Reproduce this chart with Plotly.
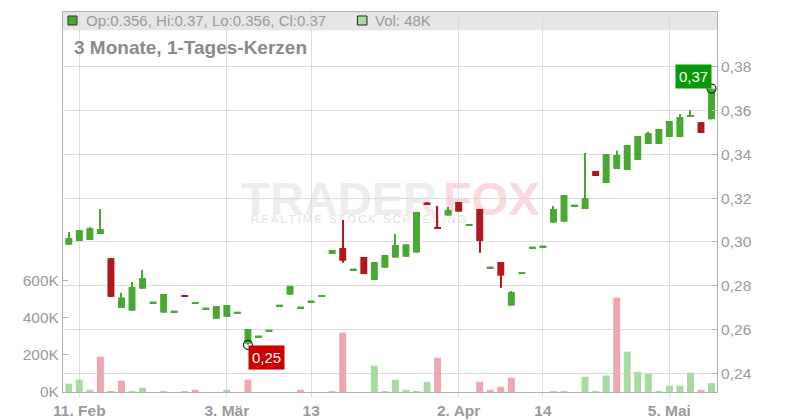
import plotly.graph_objects as go

# ---------------- data ----------------
dates = [
    "2025-02-10", "2025-02-11", "2025-02-12", "2025-02-13", "2025-02-14",
    "2025-02-17", "2025-02-18", "2025-02-19", "2025-02-20", "2025-02-21",
    "2025-02-24", "2025-02-25", "2025-02-26", "2025-02-27", "2025-02-28",
    "2025-03-03", "2025-03-04", "2025-03-05", "2025-03-06", "2025-03-07",
    "2025-03-10", "2025-03-11", "2025-03-12", "2025-03-13", "2025-03-14",
    "2025-03-17", "2025-03-18", "2025-03-19", "2025-03-20", "2025-03-21",
    "2025-03-24", "2025-03-25", "2025-03-26", "2025-03-27", "2025-03-28",
    "2025-03-31", "2025-04-01", "2025-04-02", "2025-04-03", "2025-04-04",
    "2025-04-07", "2025-04-08", "2025-04-09", "2025-04-10", "2025-04-11",
    "2025-04-14", "2025-04-15", "2025-04-16", "2025-04-17", "2025-04-22",
    "2025-04-23", "2025-04-24", "2025-04-25", "2025-04-28", "2025-04-29",
    "2025-04-30", "2025-05-02", "2025-05-05", "2025-05-06", "2025-05-07",
    "2025-05-08", "2025-05-09",
]

opens = [
    0.2987, 0.3004, 0.3009, 0.3036, 0.2926, 0.2698, 0.2686, 0.2786, 0.2724, 0.2677,
    0.2683, 0.2755, 0.2718, 0.2697, 0.2649, 0.2658, 0.2678, 0.2535, 0.2569, 0.2596,
    0.2710, 0.2759, 0.2701, 0.2729, 0.2753, 0.2945, 0.2972, 0.2875, 0.2931, 0.2826,
    0.2882, 0.2928, 0.2932, 0.2951, 0.3178, 0.3068, 0.3120, 0.3182, 0.3077, 0.3150,
    0.2884, 0.2908, 0.2709, 0.2857, 0.2975, 0.2980, 0.3088, 0.3092, 0.3167, 0.3150,
    0.3324, 0.3269, 0.3333, 0.3328, 0.3374, 0.3447, 0.3447, 0.3479, 0.3479, 0.3574,
    0.3547, 0.356,
]
highs = [
    0.3045, 0.3054, 0.3068, 0.3150, 0.2926, 0.2768, 0.2817, 0.2872, 0.2724, 0.2762,
    0.2683, 0.2755, 0.2726, 0.2697, 0.2707, 0.2712, 0.2678, 0.2602, 0.2569, 0.2596,
    0.2710, 0.2799, 0.2701, 0.2729, 0.2753, 0.2963, 0.3100, 0.2875, 0.2931, 0.2908,
    0.2940, 0.3036, 0.2989, 0.3137, 0.3178, 0.3164, 0.3159, 0.3182, 0.3077, 0.3150,
    0.2884, 0.2908, 0.2776, 0.2857, 0.2975, 0.2980, 0.3164, 0.3214, 0.3167, 0.3406,
    0.3324, 0.3401, 0.3416, 0.3442, 0.3484, 0.3503, 0.3516, 0.3552, 0.3584, 0.3602,
    0.3547, 0.370,
]
lows = [
    0.2987, 0.3004, 0.3009, 0.3036, 0.2749, 0.2698, 0.2686, 0.2786, 0.2724, 0.2677,
    0.2683, 0.2752, 0.2718, 0.2697, 0.2649, 0.2658, 0.2678, 0.2530, 0.2569, 0.2596,
    0.2710, 0.2759, 0.2701, 0.2729, 0.2753, 0.2945, 0.2905, 0.2875, 0.2853, 0.2826,
    0.2882, 0.2928, 0.2932, 0.2951, 0.3175, 0.3060, 0.3120, 0.3138, 0.3077, 0.2951,
    0.2884, 0.2791, 0.2709, 0.2857, 0.2975, 0.2980, 0.3088, 0.3092, 0.3167, 0.3150,
    0.3301, 0.3269, 0.3333, 0.3328, 0.3374, 0.3447, 0.3447, 0.3479, 0.3479, 0.3574,
    0.3497, 0.356,
]
closes = [
    0.3018, 0.3054, 0.3063, 0.3059, 0.2749, 0.2746, 0.2794, 0.2835, 0.2724, 0.2762,
    0.2683, 0.2752, 0.2726, 0.2697, 0.2707, 0.2712, 0.2678, 0.2602, 0.2569, 0.2596,
    0.2710, 0.2799, 0.2701, 0.2729, 0.2753, 0.2963, 0.2914, 0.2875, 0.2853, 0.2908,
    0.2940, 0.2986, 0.2989, 0.3137, 0.3175, 0.3060, 0.3146, 0.3138, 0.3077, 0.3004,
    0.2884, 0.2846, 0.2771, 0.2857, 0.2975, 0.2980, 0.3150, 0.3214, 0.3167, 0.3200,
    0.3301, 0.3401, 0.3397, 0.3442, 0.3484, 0.3497, 0.3516, 0.3552, 0.3570, 0.3576,
    0.3497, 0.370,
]
volumes = [
    45000, 66000, 12000, 190000, 5000, 61000, 5000, 23000, 0, 5000,
    0, 5000, 12000, 0, 0, 12000, 0, 66000, 0, 0,
    0, 0, 12000, 0, 0, 5000, 319000, 0, 0, 141000,
    5000, 66000, 12000, 5000, 55000, 184000, 0, 0, 0, 55000,
    12000, 28000, 77000, 0, 0, 0, 5000, 5000, 0, 82000,
    5000, 88000, 507000, 217000, 109000, 98000, 5000, 34000, 34000, 104000,
    12000, 48000,
]

tick_dates = ["2025-02-11", "2025-03-03", "2025-03-13", "2025-04-02", "2025-04-14", "2025-05-05"]
tick_labels = ["11. Feb", "3. Mär", "13", "2. Apr", "14", "5. Mai"]
price_ticks = [0.24, 0.26, 0.28, 0.30, 0.32, 0.34, 0.36, 0.38]
volume_ticks = [0, 200000, 400000, 600000]
volume_tick_labels = ["0K", "200K", "400K", "600K"]
title_text = "3 Monate, 1-Tages-Kerzen"

# ---------------- styles ----------------
GREEN = "#47a932"
RED = "#b3171b"
VOL_GREEN = "#a8dba1"
VOL_RED = "#eea6b0"
GRID = "#dcdcdc"
AXIS = "#b0b0b0"
TEXT = "#9a9a9a"
FONT = "Liberation Sans"

n = len(dates)
candle_colors = [GREEN if c >= o else RED for o, c in zip(opens, closes)]
vol_colors = [VOL_GREEN if (i == 0 or closes[i] >= closes[i - 1]) else VOL_RED for i in range(n)]

MIN_BODY = 0.0007
body_base, body_h = [], []
for o, c in zip(opens, closes):
    lo, hi = min(o, c), max(o, c)
    if hi - lo < MIN_BODY:
        mid = (lo + hi) / 2
        lo, hi = mid - MIN_BODY / 2, mid + MIN_BODY / 2
    body_base.append(lo)
    body_h.append(hi - lo)

fig = go.Figure()

# wicks
fig.add_trace(go.Bar(
    x=dates, y=[h - l for h, l in zip(highs, lows)], base=lows, width=0.11,
    marker=dict(color=candle_colors, line=dict(width=0)), yaxis="y",
    hoverinfo="skip", showlegend=False,
))
# bodies
fig.add_trace(go.Bar(
    x=dates, y=body_h, base=body_base, width=0.66,
    marker=dict(color=candle_colors, line=dict(width=0)), yaxis="y",
    showlegend=False,
))
# volume
fig.add_trace(go.Bar(
    x=dates, y=volumes, width=0.66,
    marker=dict(color=vol_colors, line=dict(width=0)), yaxis="y2",
    showlegend=False,
))

i_lo = min(range(n), key=lambda i: lows[i])
i_hi = max(range(n), key=lambda i: highs[i])
fig.add_trace(go.Scatter(
    x=[dates[i_lo], dates[i_hi]], y=[lows[i_lo], highs[i_hi]], mode="markers",
    marker=dict(symbol="circle-open", size=9, color="#222222", line=dict(width=1.2)),
    yaxis="y", showlegend=False, hoverinfo="skip",
))


def fmt2(v):
    return f"{v:.2f}".replace(".", ",")


annotations = [
    dict(x=dates[i_lo], y=lows[i_lo], xref="x", yref="y", text=fmt2(lows[i_lo]),
         showarrow=False, xanchor="left", yanchor="top", bgcolor="#cc0000",
         borderpad=3, font=dict(family=FONT, size=15, color="white")),
    dict(x=dates[i_hi], y=highs[i_hi], xref="x", yref="y", text=fmt2(highs[i_hi]),
         showarrow=False, xanchor="right", yanchor="bottom", bgcolor="#0a990a",
         borderpad=3, font=dict(family=FONT, size=15, color="white")),
    dict(x=0.0142, y=0.9066, xref="paper", yref="paper", text=title_text,
         showarrow=False, xanchor="left", yanchor="middle",
         font=dict(family=FONT, size=19, color="#8a8a8a", weight="bold")),
    dict(x=0.0321, y=0.9776, xref="paper", yref="paper",
         text=f"Op:{opens[-1]:g}, Hi:{highs[-1]:g}, Lo:{lows[-1]:g}, Cl:{closes[-1]:g}",
         showarrow=False, xanchor="left", yanchor="middle",
         font=dict(family=FONT, size=15, color=TEXT)),
    dict(x=0.4740, y=0.9776, xref="paper", yref="paper",
         text=f"Vol: {volumes[-1] / 1000:.0f}K",
         showarrow=False, xanchor="left", yanchor="middle",
         font=dict(family=FONT, size=15, color=TEXT)),
]

wm_small = "\u2009 \u2009".join("\u2009".join(w) for w in ["REALTIME", "STOCK", "SCREENING"])
shapes = [
    # header band
    dict(type="rect", xref="paper", yref="paper", x0=0, x1=1, y0=0.952, y1=1,
         fillcolor="#e6e6e6", line=dict(width=0), layer="below"),
    # legend squares
    dict(type="rect", xref="paper", yref="paper", x0=0.0076, x1=0.0214, y0=0.9658, y1=0.9895,
         fillcolor=GREEN, line=dict(width=1, color="#333333"), layer="above"),
    dict(type="rect", xref="paper", yref="paper", x0=0.4502, x1=0.4648, y0=0.9658, y1=0.9895,
         fillcolor=VOL_GREEN, line=dict(width=1, color="#222222"), layer="above"),
    # watermark
    dict(type="rect", xref="paper", yref="paper", x0=0.1, x1=0.5765, y0=0.45, y1=0.59,
         fillcolor="rgba(0,0,0,0)", line=dict(width=0), layer="below",
         label=dict(text="TRADER", textposition="middle right", padding=0,
                    font=dict(family=FONT, size=47, color="#ededed", weight="bold"))),
    dict(type="rect", xref="paper", yref="paper", x0=0.5765, x1=0.95, y0=0.45, y1=0.59,
         fillcolor="rgba(0,0,0,0)", line=dict(width=0), layer="below",
         label=dict(text="FOX", textposition="middle left", padding=0,
                    font=dict(family=FONT, size=47, color="#fbdadd", weight="bold"))),
    dict(type="rect", xref="paper", yref="paper", x0=0.283, x1=0.95, y0=0.43, y1=0.486,
         fillcolor="rgba(0,0,0,0)", line=dict(width=0), layer="below",
         label=dict(text=wm_small, textposition="middle left", padding=0,
                    font=dict(family=FONT, size=11, color="#e2e2e2"))),
]

# the page places the figure 8px from the top-left corner
fig.update_layout(
    width=792, height=412,
    margin=dict(l=55, r=83, t=4, b=28, autoexpand=False),
    paper_bgcolor="white", plot_bgcolor="white",
    barmode="overlay", separators=",.", showlegend=False,
    font=dict(family=FONT, color=TEXT),
    xaxis=dict(
        type="category", range=[-0.55, 61.52], tickvals=tick_dates, ticktext=tick_labels,
        showgrid=True, gridcolor=GRID, gridwidth=1, showline=True, linecolor=AXIS,
        linewidth=1, mirror=True, ticks="outside", ticklen=4, tickcolor=GRID,
        tickfont=dict(family=FONT, size=15.5, color=TEXT, weight="bold"),
        automargin=False, fixedrange=True,
    ),
    yaxis=dict(
        side="right", range=[0.23146, 0.40498], tickvals=price_ticks, tickformat=".2f",
        showgrid=True, gridcolor=GRID, gridwidth=1, showline=True, linecolor=AXIS,
        linewidth=1, ticks="inside", ticklen=5, tickcolor=AXIS, zeroline=False,
        tickfont=dict(family=FONT, size=15.5, color=TEXT), automargin=False,
    ),
    yaxis2=dict(
        overlaying="y", side="left", range=[0, 2043000], tickvals=volume_ticks,
        ticktext=volume_tick_labels, showgrid=False, showline=True, linecolor=AXIS,
        linewidth=1, ticks="inside", ticklen=5, tickcolor=AXIS, zeroline=False,
        tickfont=dict(family=FONT, size=15.5, color=TEXT), automargin=False,
    ),
    annotations=annotations,
    shapes=shapes,
)

fig.write_html("out.html")
